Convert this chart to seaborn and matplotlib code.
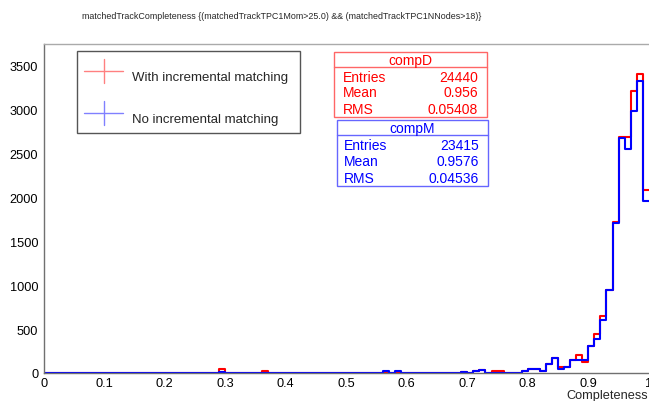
import numpy as np
import pandas as pd
import matplotlib
matplotlib.use("Agg")
import matplotlib.pyplot as plt
from matplotlib.patches import Rectangle
from matplotlib.lines import Line2D
from matplotlib.ticker import MultipleLocator
import seaborn as sns

# ---- data (lower bin edges, bin width 0.01, and counts) ----
compD_bins = [0.29, 0.36, 0.56, 0.58, 0.69, 0.71, 0.72, 0.74, 0.75, 0.79, 0.80, 0.81, 0.82,
              0.83, 0.84, 0.85, 0.86, 0.87, 0.88, 0.89, 0.90, 0.91, 0.92, 0.93, 0.94,
              0.95, 0.96, 0.97, 0.98, 0.99]
compD_counts = [40, 20, 15, 15, 15, 18, 30, 20, 20, 18, 45, 45, 18,
                100, 167, 64, 66, 145, 206, 130, 305, 443, 651, 940, 1720,
                2685, 2685, 3205, 3405, 2083]
compM_bins = [0.29, 0.56, 0.58, 0.69, 0.71, 0.72, 0.79, 0.80, 0.81, 0.82,
              0.83, 0.84, 0.85, 0.86, 0.87, 0.88, 0.89, 0.90, 0.91, 0.92, 0.93, 0.94,
              0.95, 0.96, 0.97, 0.98, 0.99]
compM_counts = [12, 20, 20, 17, 20, 38, 20, 45, 45, 18,
                100, 167, 45, 66, 145, 148, 148, 303, 386, 598, 940, 1705,
                2678, 2545, 2985, 3322, 1962]

title = "matchedTrackCompleteness {(matchedTrackTPC1Mom>25.0) && (matchedTrackTPC1NNodes>18)}"
legend_labels = ["With incremental matching", "No incremental matching"]
x_ticks = [0, 0.1, 0.2, 0.3, 0.4, 0.5, 0.6, 0.7, 0.8, 0.9, 1.0]
x_tick_labels = ["0", "0.1", "0.2", "0.3", "0.4", "0.5", "0.6", "0.7", "0.8", "0.9", "1"]
y_ticks = [0, 500, 1000, 1500, 2000, 2500, 3000, 3500]
statsD = [("Entries", "24440"), ("Mean", "0.956"), ("RMS", "0.05408")]
statsM = [("Entries", "23415"), ("Mean", "0.9576"), ("RMS", "0.04536")]

RED = (1, 0, 0)
BLUE = (0, 0, 1)

sns.set_style("white")
plt.rcParams['font.family'] = ['Liberation Sans', 'DejaVu Sans']

W, H = 649, 402
fig = plt.figure(figsize=(W / 100, H / 100), dpi=100)

def fx(px):
    return px / W

def fy(py):
    return 1 - py / H

ax = fig.add_axes([fx(43.8), fy(374), 605 / W, (374 - 45) / H])

dfD = pd.DataFrame({"x": np.array(compD_bins) + 0.005, "w": compD_counts})
dfM = pd.DataFrame({"x": np.array(compM_bins) + 0.005, "w": compM_counts})
sns.histplot(data=dfD, x="x", weights="w", bins=100, binrange=(0, 1), element="step",
             fill=False, color=RED, linewidth=1.5, ax=ax)
sns.histplot(data=dfM, x="x", weights="w", bins=100, binrange=(0, 1), element="step",
             fill=False, color=BLUE, linewidth=1.5, ax=ax)

ax.set_xlim(0, 1.0)
ax.set_ylim(0, 3745)
ax.set_xlabel("")
ax.set_ylabel("")
ax.set_xticks(x_ticks)
ax.set_xticklabels(x_tick_labels)
ax.set_yticks(y_ticks)
ax.xaxis.set_minor_locator(MultipleLocator(0.02))
ax.yaxis.set_minor_locator(MultipleLocator(100))
tc = "#8a8a8a"
ax.tick_params(axis="x", which="major", direction="in", length=7.2, width=1, color=tc,
               labelsize=9.2, pad=3, labelcolor="black")
ax.tick_params(axis="x", which="minor", direction="in", length=3.6, width=1, color=tc)
ax.tick_params(axis="y", which="major", direction="in", length=13.5, width=1, color=tc,
               labelsize=9.2, pad=4, labelcolor="black")
ax.tick_params(axis="y", which="minor", direction="in", length=6.5, width=1, color=tc)
ax.spines["right"].set_visible(False)
for s in ["left", "bottom"]:
    ax.spines[s].set_color("#707070")
    ax.spines[s].set_linewidth(1)
ax.spines["top"].set_color("#aaaaaa")
ax.spines["top"].set_linewidth(1)

# title and x label
fig.text(fx(281.5), fy(16.5), title, ha="center", va="center", fontsize=6.4)
fig.text(fx(648), fy(396), "Completeness", ha="right", va="center", fontsize=9.2)

# legend box
fig.add_artist(Rectangle((fx(77), fy(134)), (300 - 77) / W, (134 - 52) / H,
                         transform=fig.transFigure, fill=True, facecolor="white",
                         edgecolor="#555555", linewidth=1))
for (lab, col, cy) in [(legend_labels[0], (1, 0.5, 0.5), 72.3), (legend_labels[1], (0.5, 0.5, 1), 114.3)]:
    fig.add_artist(Line2D([fx(84), fx(123)], [fy(cy), fy(cy)], color=col, lw=1,
                          transform=fig.transFigure))
    fig.add_artist(Line2D([fx(103.5), fx(103.5)], [fy(cy - 12), fy(cy + 12)], color=col, lw=1,
                          transform=fig.transFigure))
    fig.text(fx(131.5), fy(cy + 5.5), lab, ha="left", va="center", fontsize=9.5)

# stats boxes
def stats_box(x0, x1, y0, y1, name, rows, col, edgecol, title_y, line_y, row_ys, lx, rx):
    fig.add_artist(Rectangle((fx(x0), fy(y1)), (x1 - x0) / W, (y1 - y0) / H,
                             transform=fig.transFigure, facecolor="white",
                             edgecolor=edgecol, linewidth=1))
    fig.add_artist(Line2D([fx(x0), fx(x1)], [fy(line_y), fy(line_y)], color=edgecol, lw=1,
                          transform=fig.transFigure))
    fig.text(fx((x0 + x1) / 2), fy(title_y), name, ha="center", va="center",
             fontsize=10, color=col)
    for (k, v), yy in zip(rows, row_ys):
        fig.text(fx(lx), fy(yy), k, ha="left", va="center", fontsize=10, color=col)
        fig.text(fx(rx), fy(yy), v, ha="right", va="center", fontsize=10, color=col)

stats_box(334, 486.5, 53.3, 117.7, "compD", statsD, RED, (1, 0.4, 0.4), 60.5, 67.7,
          [77.7, 93.3, 110], 342.7, 477.7)
stats_box(336.7, 488.3, 121, 186.7, "compM", statsM, BLUE, (0.4, 0.4, 1), 128.5, 135.7,
          [145.7, 162.3, 179], 344, 479)

fig.savefig("out.png", dpi=100)
